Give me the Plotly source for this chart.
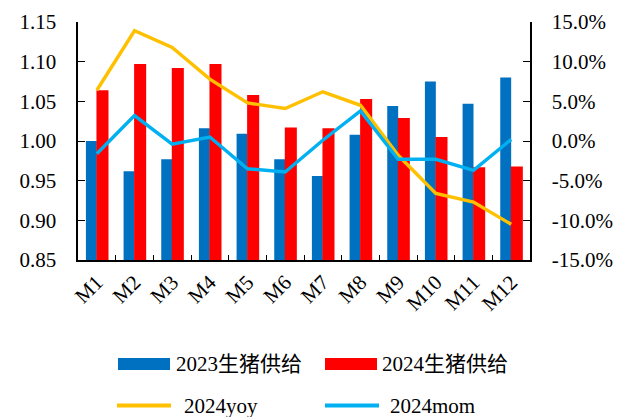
import plotly.graph_objects as go

# Monthly hog supply index and 2024 growth rates
months = ["M1", "M2", "M3", "M4", "M5", "M6", "M7", "M8", "M9", "M10", "M11", "M12"]
supply_2023 = [1.000, 0.962, 0.977, 1.016, 1.009, 0.977, 0.956, 1.008, 1.044, 1.075, 1.047, 1.080]
supply_2024 = [1.064, 1.097, 1.092, 1.097, 1.058, 1.017, 1.016, 1.053, 1.029, 1.005, 0.967, 0.968]
yoy_2024 = [6.4, 13.9, 11.8, 7.8, 4.8, 4.1, 6.2, 4.5, -1.8, -6.6, -7.7, -10.5]
mom_2024 = [-1.6, 3.2, -0.4, 0.5, -3.5, -3.9, 0.1, 3.8, -2.3, -2.3, -3.7, 0.2]

left_ticks = [0.85, 0.90, 0.95, 1.00, 1.05, 1.10, 1.15]
right_ticks = [-15, -10, -5, 0, 5, 10, 15]

BLUE = "#0070C0"
RED = "#FF0000"
GOLD = "#FFC000"
SKY = "#00B0F0"
FONT = "Liberation Serif, Times New Roman, Noto Sans CJK SC, serif"
GAP = "\u00a0" * 3  # spacing between value labels and the axis line

W, H = 619, 417
L, R, T, B = 78, 530, 22, 260  # plot area in pixels


def px(x):
    return (x - L) / (R - L)


def py(y):
    return (B - y) / (B - T)


fig = go.Figure()
fig.add_trace(go.Bar(x=months, y=supply_2023, name="2023生猪供给", marker_color=BLUE,
                     offset=-0.29, width=0.29, marker_line_width=0))
fig.add_trace(go.Bar(x=months, y=supply_2024, name="2024生猪供给", marker_color=RED,
                     offset=-0.01, width=0.32, marker_line_width=0))
fig.add_trace(go.Scatter(x=months, y=yoy_2024, name="2024yoy", mode="lines",
                         line=dict(color=GOLD, width=3.4), yaxis="y2"))
fig.add_trace(go.Scatter(x=months, y=mom_2024, name="2024mom", mode="lines",
                         line=dict(color=SKY, width=3.4), yaxis="y2"))

value_axis = dict(
    ticks="inside", ticklen=7, tickcolor="black", tickwidth=1,
    showline=True, linecolor="black", linewidth=1.5, showgrid=False, zeroline=False,
    tickfont=dict(size=21),
)

fig.update_layout(
    template="none",
    width=W, height=H,
    margin=dict(l=L, r=W - R, t=T, b=H - B, pad=0),
    paper_bgcolor="white", plot_bgcolor="white",
    barmode="overlay",
    showlegend=False,
    font=dict(family=FONT, size=21, color="black"),
    xaxis=dict(
        type="category", tickangle=-45, ticks="inside", ticklen=5, tickson="boundaries",
        tickwidth=1, tickcolor="black",
        showline=True, linecolor="black", linewidth=1.5, showgrid=False,
        tickfont=dict(size=21), range=[-0.5, 11.5],
    ),
    yaxis=dict(
        range=[0.85, 1.15], tickvals=left_ticks,
        ticktext=[f"{v:.2f}{GAP}" for v in left_ticks],
        **value_axis,
    ),
    yaxis2=dict(
        overlaying="y", side="right", range=[-15, 15], tickvals=right_ticks,
        ticktext=[f"{GAP}{v:.1f}%" for v in right_ticks],
        **value_axis,
    ),
)

# Hand-built legend below the chart
shapes = []
annotations = []
legend_items = [
    ("rect", BLUE, 118, 170, 364, "2023生猪供给", 174),
    ("rect", RED, 325, 377, 364, "2024生猪供给", 380),
    ("line", GOLD, 117, 171, 405.5, "2024yoy", 182),
    ("line", SKY, 325, 379, 405.5, "2024mom", 388),
]
for kind, color, x0, x1, yc, label, tx in legend_items:
    if kind == "rect":
        shapes.append(dict(type="rect", xref="paper", yref="paper",
                           x0=px(x0), x1=px(x1), y0=py(yc + 6), y1=py(yc - 6),
                           fillcolor=color, line=dict(width=0)))
    else:
        shapes.append(dict(type="line", xref="paper", yref="paper",
                           x0=px(x0), x1=px(x1), y0=py(yc), y1=py(yc),
                           line=dict(color=color, width=4)))
    annotations.append(dict(text=label, xref="paper", yref="paper", x=px(tx), y=py(yc),
                            xanchor="left", yanchor="middle", showarrow=False,
                            font=dict(family=FONT, size=21, color="black")))
fig.update_layout(shapes=shapes, annotations=annotations)

fig.write_html("out.html")
